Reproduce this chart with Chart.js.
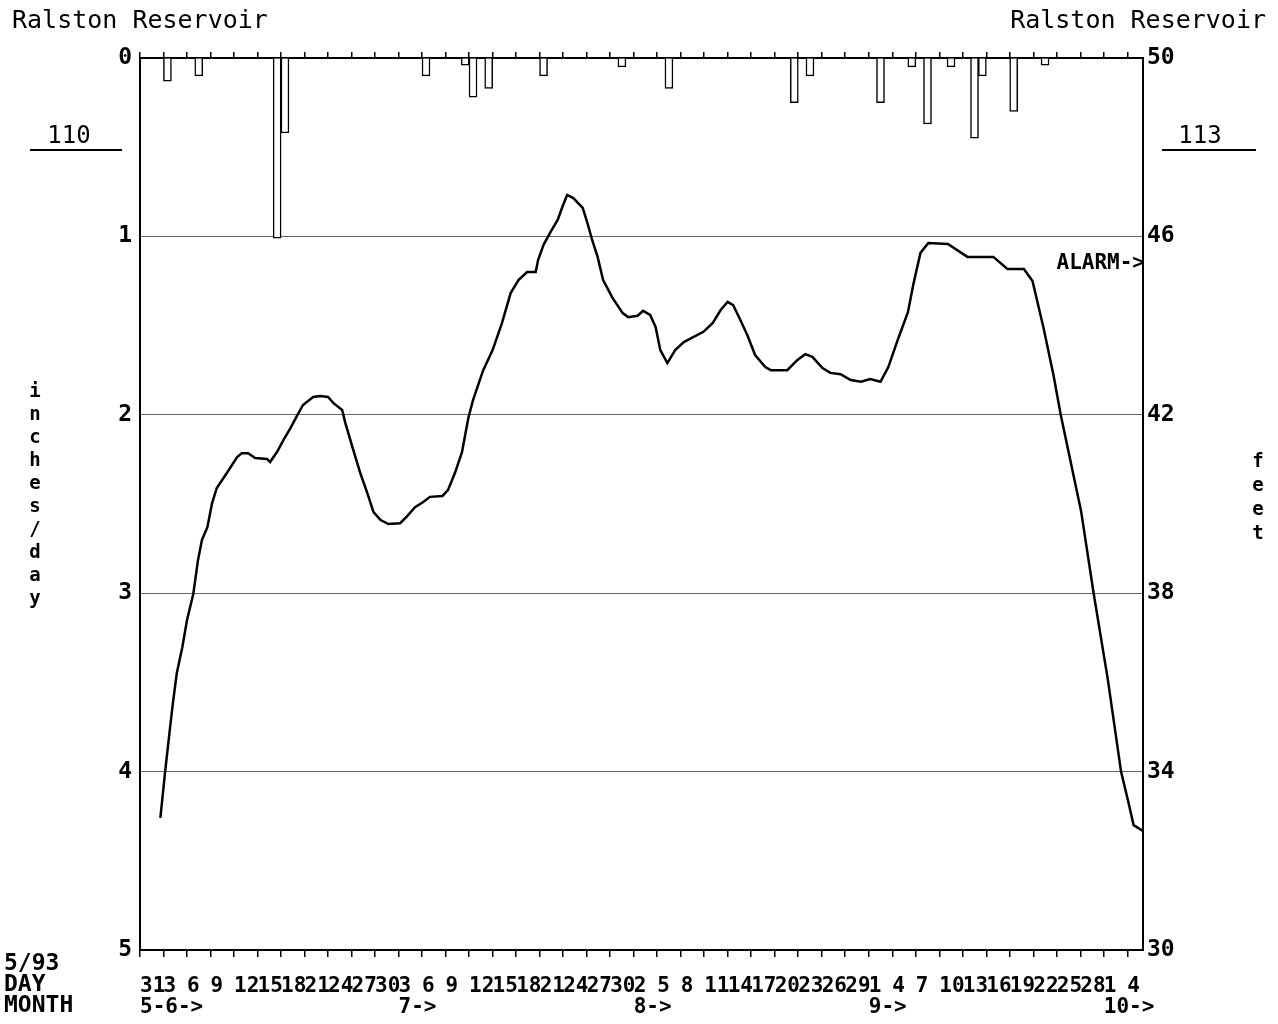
<!DOCTYPE html>
<html>
<head>
<meta charset="utf-8">
<title>Ralston Reservoir</title>
<script src="https://cdn.jsdelivr.net/npm/chart.js"></script>
<style>
  html, body { margin: 0; padding: 0; background: #fff; }
  canvas { display: block; }
</style>
</head>
<body>
<canvas id="chart" width="1278" height="1024"></canvas>
<script>
// x axis: days counted from 5/31/93 (day 0), a label every 3 days
const dayLabels = ['31','3','6','9','12','15','18','21','24','27','30',
  '3','6','9','12','15','18','21','24','27','30',
  '2','5','8','11','14','17','20','23','26','29',
  '1','4','7','10','13','16','19','22','25','28',
  '1','4'];
const monthTickIdx = [0, 11, 21, 31, 41];
const monthLabels = ['5-6->', '7->', '8->', '9->', '10->'];

// rainfall, inches/day (hangs from the top, left axis)
const rainDays = [3, 7, 17, 18, 36, 41, 42, 44, 51, 61, 67, 83, 85, 94, 98, 100, 103, 106, 107, 111, 115];
const rainInches = [0.13, 0.10, 1.01, 0.42, 0.10, 0.04, 0.22, 0.17, 0.10, 0.05, 0.17, 0.25, 0.10, 0.25, 0.05, 0.37, 0.05, 0.45, 0.10, 0.30, 0.04];

// reservoir level, feet (right axis)
const levelDays = [2.6, 3.2, 3.8, 4.2, 4.7, 5.4, 6.0, 6.8, 7.4, 7.9, 8.6, 9.2, 9.8, 11.1, 12.4, 13.0, 13.8, 14.7, 16.2, 16.6,
  17.5, 18.3, 19.2, 20.1, 20.8, 22.1, 23.0, 24.0, 24.7, 25.8, 26.2, 27.1, 28.1, 29.0, 29.8, 30.7, 31.7, 33.2, 34.1, 35.1,
  36.1, 37.0, 38.6, 39.3, 40.2, 41.1, 41.9, 42.5, 43.8, 45.0, 46.2, 47.3, 48.3, 49.4, 50.5, 50.8, 51.5, 52.4, 53.3, 53.9,
  54.5, 55.3, 56.5, 57.1, 57.7, 58.4, 59.1, 60.3, 61.6, 62.3, 63.5, 64.2, 65.1, 65.8, 66.4, 67.3, 68.3, 69.4, 70.6, 71.9,
  73.1, 74.1, 75.0, 75.7, 76.6, 77.5, 78.5, 79.8, 80.5, 82.6, 83.9, 84.9, 85.8, 87.1, 88.1, 89.4, 90.7, 92.0, 93.2, 94.5,
  95.5, 96.7, 98.0, 98.7, 99.6, 100.6, 103.1, 105.6, 108.9, 110.7, 112.8, 113.9, 115.3, 116.6, 117.5, 120.1, 121.7, 123.5,
  125.2, 126.1, 126.8, 128.0];
const levelFeet = [32.96, 33.99, 34.93, 35.54, 36.21, 36.79, 37.40, 37.98, 38.74, 39.19, 39.48, 40.02, 40.36, 40.70, 41.05, 41.14, 41.14, 41.03, 41.01, 40.94,
  41.17, 41.43, 41.70, 42.00, 42.22, 42.40, 42.42, 42.40, 42.26, 42.11, 41.82, 41.28, 40.70, 40.25, 39.82, 39.64, 39.55, 39.57, 39.73, 39.93,
  40.04, 40.16, 40.18, 40.31, 40.70, 41.17, 41.93, 42.33, 43.00, 43.45, 44.06, 44.73, 45.02, 45.20, 45.20, 45.47, 45.81, 46.10, 46.37, 46.66,
  46.93, 46.86, 46.64, 46.30, 45.92, 45.54, 45.02, 44.62, 44.28, 44.19, 44.22, 44.33, 44.24, 43.97, 43.45, 43.16, 43.45, 43.63, 43.74, 43.86,
  44.06, 44.35, 44.53, 44.46, 44.13, 43.79, 43.34, 43.07, 43.00, 43.00, 43.23, 43.36, 43.30, 43.05, 42.94, 42.91, 42.78, 42.74, 42.80, 42.74,
  43.07, 43.68, 44.30, 44.93, 45.63, 45.85, 45.83, 45.54, 45.54, 45.27, 45.27, 45.00, 43.95, 42.87, 42.00, 39.84, 38.00, 36.08,
  34.00, 33.34, 32.80, 32.67];

const alarmFeet = 45.4;
const FONT = "'DejaVu Sans Mono', 'Liberation Mono', monospace";

const dayTicks = dayLabels.map((_, i) => ({ value: i * 3 }));

function tickLabel(v) {
  const i = Math.round(v / 3);
  const m = monthTickIdx.indexOf(i);
  return [dayLabels[i] || '', m >= 0 ? monthLabels[m] : ''];
}

// texts around the plot
const extras = {
  id: 'extras',
  afterDraw(chart) {
    const ctx = chart.ctx;
    const area = chart.chartArea;
    ctx.save();
    ctx.fillStyle = '#000';
    ctx.strokeStyle = '#000';
    ctx.textBaseline = 'middle';

    ctx.font = '25px ' + FONT;
    ctx.textAlign = 'left';
    ctx.fillText('Ralston Reservoir', 12, 21);
    ctx.textAlign = 'right';
    ctx.fillText('Ralston Reservoir', 1266, 21);

    ctx.font = '24px ' + FONT;
    ctx.textAlign = 'center';
    ctx.fillText('110', 69, 137);
    ctx.fillText('113', 1200, 137);
    ctx.lineWidth = 2;
    ctx.beginPath();
    ctx.moveTo(30, 150); ctx.lineTo(122, 150);
    ctx.moveTo(1162, 150); ctx.lineTo(1256, 150);
    ctx.stroke();

    ctx.font = 'bold 21px ' + FONT;
    ctx.textAlign = 'right';
    ctx.fillText('ALARM->', area.right + 2, chart.scales.yFt.getPixelForValue(alarmFeet));

    ctx.font = 'bold 19px ' + FONT;
    ctx.textAlign = 'center';
    'inches/day'.split('').forEach((c, i) => ctx.fillText(c, 35, 392 + i * 23));
    'feet'.split('').forEach((c, i) => ctx.fillText(c, 1258, 462 + i * 24));

    ctx.font = 'bold 23px ' + FONT;
    ctx.textAlign = 'left';
    ctx.fillText('5/93', 4, 964);
    ctx.fillText('DAY', 4, 985);
    ctx.fillText('MONTH', 4, 1006);
    ctx.restore();
  }
};

new Chart(document.getElementById('chart'), {
  type: 'line',
  data: {
    datasets: [{
      type: 'bar',
      label: 'rain',
      data: rainDays.map((d, i) => ({ x: d + 0.5, y: rainInches[i] })),
      xAxisID: 'x',
      yAxisID: 'yIn',
      backgroundColor: '#fff',
      borderColor: '#000',
      borderWidth: 1.5,
      barThickness: 8
    }, {
      type: 'line',
      label: 'level',
      data: levelDays.map((d, i) => ({ x: d, y: levelFeet[i] })),
      xAxisID: 'x',
      yAxisID: 'yFt',
      borderColor: '#000',
      borderWidth: 2.5,
      pointRadius: 0,
      tension: 0,
      fill: false
    }]
  },
  options: {
    responsive: false,
    animation: false,
    layout: { padding: 0 },
    plugins: {
      legend: { display: false },
      tooltip: { enabled: false }
    },
    scales: {
      x: {
        type: 'linear',
        position: 'bottom',
        min: 0,
        max: 128,
        offset: false,
        afterBuildTicks: s => { s.ticks = dayTicks.slice(); },
        afterFit: s => { s.height = 74; },
        grid: { offset: false, drawOnChartArea: false, drawTicks: true, tickLength: 7, color: '#000', lineWidth: 1.5 },
        border: { color: '#000', width: 2 },
        ticks: {
          autoSkip: false,
          maxRotation: 0,
          align: 'start',
          padding: 19,
          color: '#000',
          font: { family: FONT, size: 21, weight: 'bold', lineHeight: 1.0 },
          callback: v => tickLabel(v)
        }
      },
      xTop: {
        type: 'linear',
        position: 'top',
        min: 0,
        max: 128,
        offset: false,
        afterBuildTicks: s => { s.ticks = dayTicks.slice(); },
        afterFit: s => { s.height = 58; },
        grid: { offset: false, drawOnChartArea: false, drawTicks: true, tickLength: 6, color: '#000', lineWidth: 1.5 },
        border: { color: '#000', width: 2 },
        ticks: { display: false }
      },
      yIn: {
        type: 'linear',
        position: 'left',
        reverse: true,
        min: 0,
        max: 5,
        afterFit: s => { s.width = 140; },
        grid: { color: '#666', lineWidth: 1, drawTicks: false },
        border: { color: '#000', width: 2 },
        ticks: {
          stepSize: 1,
          padding: 8,
          color: '#000',
          font: { family: FONT, size: 23, weight: 'bold' }
        }
      },
      yFt: {
        type: 'linear',
        position: 'right',
        min: 30,
        max: 50,
        afterFit: s => { s.width = 135; },
        grid: { drawOnChartArea: false, drawTicks: false },
        border: { color: '#000', width: 2 },
        ticks: {
          stepSize: 4,
          padding: 4,
          color: '#000',
          font: { family: FONT, size: 23, weight: 'bold' }
        }
      }
    }
  },
  plugins: [extras]
});
</script>
</body>
</html>
